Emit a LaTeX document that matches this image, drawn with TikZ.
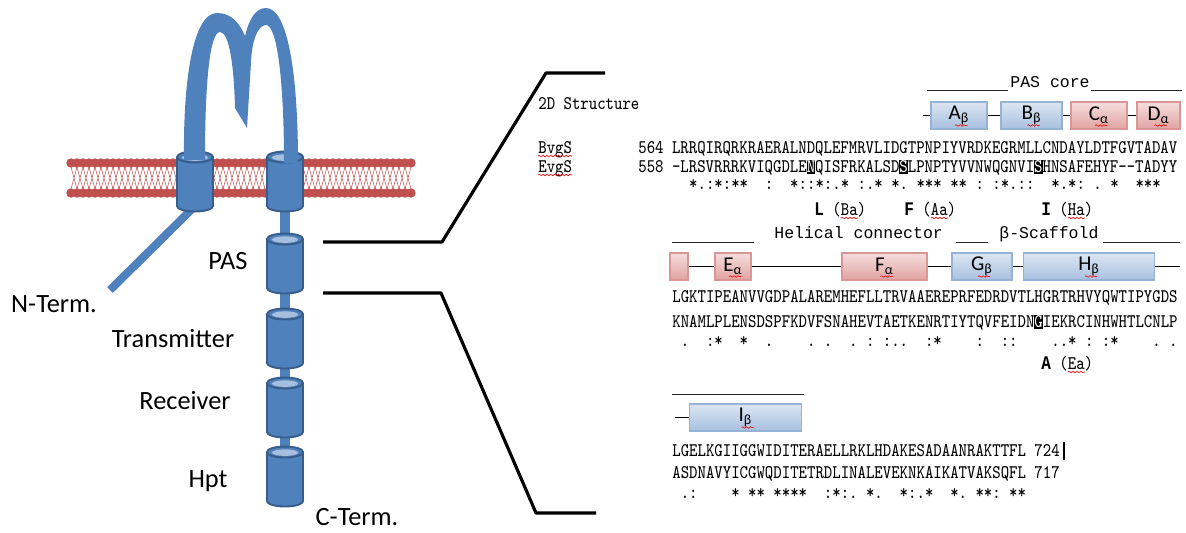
\documentclass[tikz,border=0pt]{standalone}
\usepackage{fontspec}
\setsansfont{Carlito}
\newfontfamily\hdrfont{Liberation Mono}
\usepackage{graphicx}
\usetikzlibrary{backgrounds, calc, decorations.pathmorphing}

\definecolor{prot}{HTML}{4F81BD}
\definecolor{protdark}{HTML}{385D8A}
\definecolor{protcap}{HTML}{A7BFDE}
\definecolor{lipid}{HTML}{C0504D}
\definecolor{betalo}{HTML}{DCE6F2}
\definecolor{betahi}{HTML}{A7C0E0}
\definecolor{betaedge}{HTML}{95B3D7}
\definecolor{alphalo}{HTML}{F5DEDD}
\definecolor{alphahi}{HTML}{E0A3A2}
\definecolor{alphaedge}{HTML}{D99694}

% alignment text: 9.13pt mono gives one column every 8.45 units
\newcommand{\mono}[1]{{\fontsize{9.13pt}{11pt}\selectfont\ttfamily\scalebox{1}[1.2]{#1}}}
\newcommand{\hl}[1]{{\setlength{\fboxsep}{0pt}\colorbox{black}{\rule[-1pt]{0pt}{6.8pt}\textcolor{white}{#1}}}}
\newcommand{\res}[1]{{\hdrfont\bfseries #1}}

\tikzset{
  can/.style={fill=prot, draw=protdark, line width=1.1pt},
  pics/domain/.style={code={
    \draw[can] (0,49) ellipse (18 and 5.5);
    \fill[prot] (-18,0) rectangle (18,49);
    \draw[protdark, line width=1.1pt] (-18,0) -- (-18,49) (18,0) -- (18,49);
    \draw[can] (0,0) ellipse (18 and 5.5);
    \fill[protcap] (0,0.6) ellipse (13 and 3.3);
    \coordinate (-top) at (0,0);
    \coordinate (-bot) at (0,49);
  }},
  linker/.style={prot, line width=6.2pt},
  nterm/.style={prot, line width=4.6pt},
  tail/.style={lipid, line width=0.3pt},
  bracket/.style={line width=1.8pt, line join=round},
  domlabel/.style={font={\fontsize{15}{18}\sffamily}},
  seq/.style={anchor=base west, inner sep=0pt},
  hdr/.style={anchor=base west, inner sep=0pt, font={\fontsize{9.4}{11}\hdrfont}},
  uline/.style={line width=0.55pt, black!85},
  chain/.style={line width=1pt},
  spell/.style={red, line width=0.35pt, decorate, decoration={snake, amplitude=0.45pt, segment length=2.2pt}},
  ss/.style={inner sep=0pt, minimum height=15.3pt, line width=0.8pt, font={\fontsize{12}{14}\sffamily}},
  bbox/.style={ss, draw=betaedge, top color=betalo, bottom color=betahi, minimum width=#1*0.5669pt},
  abox/.style={ss, draw=alphaedge, top color=alphalo, bottom color=alphahi, minimum width=#1*0.5669pt},
}

\begin{document}
\begin{tikzpicture}[x=0.02cm, y=-0.02cm]
\useasboundingbox (0,0) rectangle (1186,532);

% bilayer, cut where the two helices pass
\foreach \a/\n in {71/18, 211/9, 303/18}{
  \foreach \k [evaluate=\k as \x using \a+6*\k] in {1,...,\n}
    \draw[tail] (\x-6,167) -- (\x,189) (\x,167) -- (\x-6,189);
  \foreach \k [evaluate=\k as \x using \a+6*\k] in {0,...,\n}
    \fill[lipid] (\x,163) circle (4.7) (\x,193) circle (4.7);
}

\pic (tmL) at (195,157) {domain};
\pic (tmR) at (285,157) {domain};
\pic (pas) at (285,239) {domain};
\pic (tra) at (285,314) {domain};
\pic (rec) at (285,383) {domain};
\pic (hpt) at (285,452) {domain};

\begin{scope}[on background layer]
\coordinate (nt) at (110,290);
\draw[nterm] (tmL-bot) -- (nt);
\draw[linker] (tmR-bot) -- (pas-top) (pas-bot) -- (tra-top)
  (tra-bot) -- (rec-top) (rec-bot) -- (hpt-top);
\end{scope}

% periplasmic loop
\fill[prot] (184,160) .. controls (183,80) and (193,13) .. (217,13)
  .. controls (232,13) and (240,24) .. (245,36)
  .. controls (249,20) and (255,8) .. (266,8)
  .. controls (287,8) and (298,70) .. (298,163)
  -- (284,163)
  .. controls (284,80) and (277,25) .. (266,25)
  .. controls (258,25) and (252,40) .. (251,62)
  -- (247,128) -- (235,108)
  .. controls (234,65) and (229,32) .. (220,32)
  .. controls (210,32) and (205,80) .. (205,160) -- cycle;

\node[domlabel] (lpas) at (228,261) {PAS};
\node[domlabel] (lnt) at (54,304) {N-Term.};
\node[domlabel] (ltra) at (173,339) {Transmitter};
\node[domlabel] (lrec) at (185,401) {Receiver};
\node[domlabel] (lhpt) at (208,481) {Hpt};
\node[domlabel] (lct) at (357,517) {C-Term.};

% zoom lines
\coordinate (u0) at (323,242); \coordinate (u1) at (442,242);
\coordinate (u2) at (546,73);  \coordinate (u3) at (605,73);
\coordinate (w0) at (323,293); \coordinate (w1) at (441,293);
\coordinate (w2) at (536,513); \coordinate (w3) at (596,513);
\draw[bracket] (u0) -- (u1) -- (u2) -- (u3);
\draw[bracket] (w0) -- (w1) -- (w2) -- (w3);

% first block
\node[seq] (struct) at (538,109) {\mono{2D Structure}};
\node[hdr] (pascore) at (1010,87) {PAS core};
\draw[uline] (927,90) -- (1008,90) (1091,90) -- (1182,90);

\coordinate (r1) at (923,115.5);
\node[bbox=56] (Ab) at (959,115.5) {A\textsubscript{β}};
\node[bbox=61] (Bb) at (1031.5,115.5) {B\textsubscript{β}};
\node[abox=56] (Ca) at (1099,115.5) {C\textsubscript{α}};
\node[abox=43] (Da) at (1158.5,115.5) {D\textsubscript{α}};
\draw[chain] (r1) -- (Ab) -- (Bb) -- (Ca) -- (Da);

\node[seq] (bvg) at (538,153) {\mono{BvgS}};
\node[seq] (evg) at (538,172) {\mono{EvgS}};
\node[seq] (bvg1) at (638,153) {\mono{564 LRRQIRQRKRAERALNDQLEFMRVLIDGTPNPIYVRDKEGRMLLCNDAYLDTFGVTADAV}};
\node[seq] (evg1) at (638,172) {\mono{558 -LRSVRRRKVIQGDLE\hl{N}QISFRKALSD\hl{S}LPNPTYVVNWQGNVI\hl{S}HNSAFEHYF-{}-TADYY}};
\node[seq] (cons1) at (672,189) {\mono{~~*.:*:**~~:~~*::*:.*~:.*~*.~***~**~:~:*.::~~*.*:~.~*~~***}};
\node[seq] (mutL) at (814,215) {\mono{\res{L}~(Ba)}};
\node[seq] (mutF) at (904,215) {\mono{\res{F}~(Aa)}};
\node[seq] (mutI) at (1041,215) {\mono{\res{I}~(Ha)}};

% second block
\node[hdr] (helix) at (774,238) {Helical connector};
\node[hdr] (scaf) at (999,238) {β-Scaffold};
\draw[uline] (672,242) -- (754,242) (956,242) -- (988,242) (1103,242) -- (1180,242);

\node[abox=18] (h0) at (679,266.5) {};
\node[abox=36] (Ea) at (733,266.5) {E\textsubscript{α}};
\node[abox=85] (Fa) at (884.5,266.5) {F\textsubscript{α}};
\node[bbox=60] (Gb) at (982,266.5) {G\textsubscript{β}};
\node[bbox=132] (Hb) at (1089,266.5) {H\textsubscript{β}};
\coordinate (r2) at (1180,266.5);
\draw[chain] (h0) -- (Ea) -- (Fa) -- (Gb) -- (Hb) -- (r2);

\node[seq] (bvg2) at (672,302) {\mono{LGKTIPEANVVGDPALAREMHEFLLTRVAAEREPRFEDRDVTLHGRTRHVYQWTIPYGDS}};
\node[seq] (evg2) at (672,327) {\mono{KNAMLPLENSDSPFKDVFSNAHEVTAETKENRTIYTQVFEIDN\hl{G}IEKRCINHWHTLCNLP}};
\node[seq] (cons2) at (672,346) {\mono{~.~~:*~~*~~.~~~~.~.~~.~:~:..~~:*~~~~:~~::~~~~..*~:~:*~~~~.~.}};
\node[seq] (mutA) at (1041,369) {\mono{\res{A}~(Ea)}};

% third block
\draw[uline] (672,394) -- (804,394);
\coordinate (r3) at (675,417.5);
\node[bbox=113] (Ib) at (745.5,417.5) {I\textsubscript{β}};
\draw[chain] (r3) -- (Ib);

\node[seq] (bvg3) at (672,456) {\mono{LGELKGIIGGWIDITERAELLRKLHDAKESADAANRAKTTFL 724}};
\node[seq] (evg3) at (672,478) {\mono{ASDNAVYICGWQDITETRDLINALEVEKNKAIKATVAKSQFL 717}};
\node[seq] (cons3) at (672,498) {\mono{~.:~~~~*~**~****~~:*:.~*.~~*:.*~~*.~**:~**}};
\draw[line width=0.6pt] (1064,442) -- (1064,460);

% spell-check squiggles
\draw[spell] ($(bvg.base west)+(0,3)$) -- ++(34,0);
\draw[spell] ($(evg.base west)+(0,3)$) -- ++(34,0);
\foreach \m in {mutL, mutF, mutI, mutA}
  \draw[spell] ($(\m.base west)+(27,3)$) -- ++(17,0);
\foreach \b in {Ab, Bb, Ca, Da, Ea, Fa, Gb, Hb, Ib}
  \draw[spell] ($(\b.center)+(-4,10)$) -- ++(12,0);
\end{tikzpicture}
\end{document}
